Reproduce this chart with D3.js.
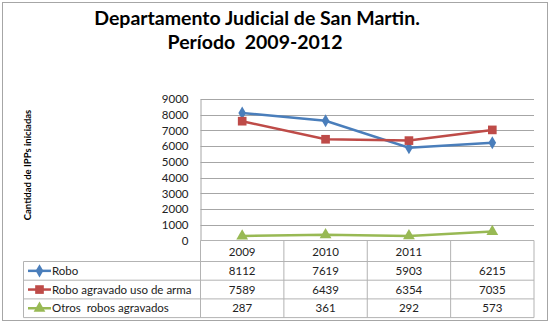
<!DOCTYPE html>
<html>
<head>
<meta charset="utf-8">
<script src="https://cdn.jsdelivr.net/npm/d3@7"></script>
<style>
  html, body { margin: 0; padding: 0; background: #fff; }
  svg { display: block; }
  text { font-family: Lato, "Open Sans", sans-serif; white-space: pre; }
</style>
</head>
<body>
<svg id="chart" width="550" height="325"></svg>
<script>
// Years shown as the table header (fourth header cell is blank)
const categories = ["2009", "2010", "2011", "2012"];
const headerLabels = ["2009", "2010", "2011", ""];
const seriesNames = ["Robo", "Robo agravado uso de arma", "Otros  robos agravados"];
const robo = [8112, 7619, 5903, 6215];
const roboArma = [7589, 6439, 6354, 7035];
const otros = [287, 361, 292, 573];
const yTicks = [0, 1000, 2000, 3000, 4000, 5000, 6000, 7000, 8000, 9000];

const colors = ["#4A7EBB", "#BE4B48", "#98B954"];
const symbols = [d3.symbolDiamond, d3.symbolSquare, d3.symbolTriangle];
const symbolSizes = [50, 75, 60];
const series = [robo, roboArma, otros].map((values, i) => ({
  name: seriesNames[i], values, color: colors[i], symbol: symbols[i], size: symbolSizes[i]
}));

const svg = d3.select("#chart");
const plot = { left: 200.5, right: 534, top: 99, bottom: 240.5 };

// outer frame
svg.append("rect").attr("x", 2.5).attr("y", 2.5).attr("width", 545).attr("height", 318)
  .attr("fill", "#fff").attr("stroke", "#a6a6a6").attr("stroke-width", 1);

// title
const title = svg.append("text").attr("text-anchor", "middle")
  .attr("font-weight", "bold").attr("font-size", 19.5).attr("fill", "#000");
title.append("tspan").attr("x", 257).attr("y", 25).text("Departamento Judicial de San Martin.");
title.append("tspan").attr("x", 255).attr("y", 49).text("Período  2009-2012");

const x = d3.scaleBand().domain(categories).range([plot.left, plot.right]);
const y = d3.scaleLinear().domain([0, 9000]).range([plot.bottom, plot.top]);

// horizontal gridlines
svg.append("g").selectAll("line").data(yTicks.slice(1)).join("line")
  .attr("x1", plot.left).attr("x2", plot.right)
  .attr("y1", d => Math.round(y(d)) + 0.5).attr("y2", d => Math.round(y(d)) + 0.5)
  .attr("stroke", "#a6a6a6").attr("stroke-width", 1);

// value axis
const yAxis = svg.append("g").attr("transform", `translate(${plot.left},0)`)
  .call(d3.axisLeft(y).tickValues(yTicks).tickFormat(d3.format("d")).tickSize(0).tickPadding(12));
yAxis.select(".domain").attr("stroke", "#a6a6a6");
yAxis.selectAll("text").attr("font-size", 11.5).attr("fill", "#222")
  .attr("font-family", "Lato, sans-serif");

svg.append("text")
  .attr("transform", "translate(31,165) rotate(-90)")
  .attr("text-anchor", "middle").attr("font-weight", "bold").attr("font-size", 9.5)
  .attr("fill", "#000").text("Cantidad de IPPs iniciadas");

// lines and markers
const line = d3.line().x((d, i) => x(categories[i]) + x.bandwidth() / 2).y(d => y(d));
series.forEach(s => {
  svg.append("path").datum(s.values).attr("d", line)
    .attr("fill", "none").attr("stroke", s.color).attr("stroke-width", 2.5);
  svg.append("g").selectAll("path").data(s.values).join("path")
    .attr("transform", (d, i) => `translate(${x(categories[i]) + x.bandwidth() / 2},${y(d)})`)
    .attr("d", d3.symbol().type(s.symbol).size(s.size)).attr("fill", s.color);
});

// data table under the plot
const table = { legendLeft: 23.5, headerTop: 240.5, rowTop: 261.5, rowH: 18.7 };
const tableBottom = table.rowTop + table.rowH * 3;
const grid = svg.append("g").attr("stroke", "#b3b3b3").attr("stroke-width", 1).attr("fill", "none");
// header row
grid.append("line").attr("x1", plot.left).attr("x2", plot.right).attr("y1", table.headerTop).attr("y2", table.headerTop);
// row separators
d3.range(4).forEach(r => {
  const yy = table.rowTop + r * table.rowH;
  grid.append("line").attr("x1", table.legendLeft).attr("x2", plot.right).attr("y1", yy).attr("y2", yy);
});
// column separators
categories.forEach(c => {
  grid.append("line").attr("x1", x(c)).attr("x2", x(c)).attr("y1", table.headerTop).attr("y2", tableBottom);
});
grid.append("line").attr("x1", plot.right).attr("x2", plot.right).attr("y1", table.headerTop).attr("y2", tableBottom);
grid.append("line").attr("x1", table.legendLeft).attr("x2", table.legendLeft).attr("y1", table.rowTop).attr("y2", tableBottom);

const cellFont = 11.5;
svg.append("g").selectAll("text").data(headerLabels).join("text")
  .attr("x", (d, i) => x(categories[i]) + x.bandwidth() / 2)
  .attr("y", table.headerTop + 15)
  .attr("text-anchor", "middle").attr("font-size", cellFont).attr("fill", "#222").text(d => d);

series.forEach((s, r) => {
  const cy = table.rowTop + r * table.rowH + table.rowH / 2;
  svg.append("line").attr("x1", 28).attr("x2", 51).attr("y1", cy).attr("y2", cy)
    .attr("stroke", s.color).attr("stroke-width", 2.5);
  svg.append("path").attr("transform", `translate(39.5,${cy})`)
    .attr("d", d3.symbol().type(s.symbol).size(s.size)).attr("fill", s.color);
  svg.append("text").attr("x", 52).attr("y", cy + 4).attr("font-size", cellFont)
    .attr("fill", "#222").text(s.name);
  svg.append("g").selectAll("text").data(s.values).join("text")
    .attr("x", (d, i) => x(categories[i]) + x.bandwidth() / 2).attr("y", cy + 4)
    .attr("text-anchor", "middle").attr("font-size", cellFont).attr("fill", "#222").text(d => d);
});
</script>
</body>
</html>
